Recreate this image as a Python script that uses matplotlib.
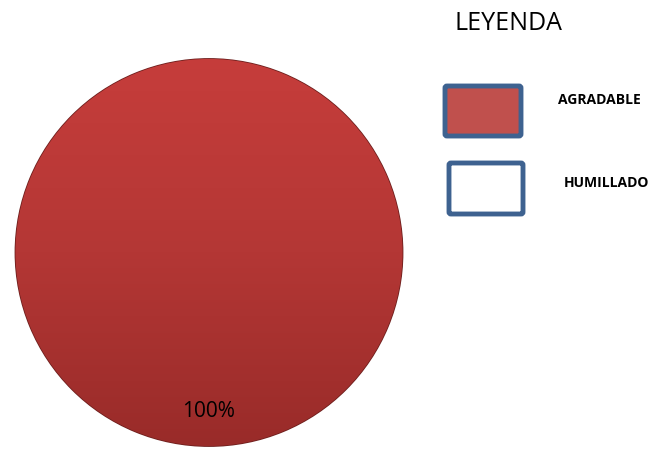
import numpy as np
import matplotlib
matplotlib.use('Agg')
import matplotlib.pyplot as plt
from matplotlib.patches import FancyBboxPatch
from matplotlib.colors import LinearSegmentedColormap

# data
labels = ['AGRADABLE', 'HUMILLADO']
values = [100, 0]
colors = ['#C0504D', '#FFFFFF']
legend_title = 'LEYENDA'

plt.rcParams['font.family'] = ['Open Sans', 'DejaVu Sans']

fig = plt.figure(figsize=(6.5, 4.5), dpi=100)
W, H = 650, 450

# pie axes
ax = fig.add_axes([12 / W, (H - 448) / H, 394 / W, 391 / H])
wedges, texts, autotexts = ax.pie(
    values, colors=colors, startangle=90, counterclock=False,
    autopct=lambda p: '{:.0f}%'.format(p) if p > 0 else '',
    pctdistance=0.82, radius=1.0,
    wedgeprops={'edgecolor': '#6e1f1d', 'linewidth': 1.2},
    textprops={'fontsize': 15, 'color': 'black'})

# gradient fill for the big slice (light top -> dark bottom)
grad = LinearSegmentedColormap.from_list('g', ['#C63D3B', '#B43735', '#992B29'])
img = ax.imshow(np.linspace(0, 1, 256).reshape(-1, 1), cmap=grad, aspect='auto',
                extent=[-1, 1, -1, 1], origin='upper', zorder=1.5,
                interpolation='bilinear')
img.set_clip_path(wedges[0])
for t in autotexts:
    t.set_zorder(3)
ax.set_xlim(-1.01, 1.01)
ax.set_ylim(-1.01, 1.01)
ax.set_aspect('equal')
ax.axis('off')

# legend drawn in pixel coords
lax = fig.add_axes([0, 0, 1, 1])
lax.set_xlim(0, W)
lax.set_ylim(H, 0)
lax.axis('off')

lax.text(508, 23, legend_title, fontsize=18, ha='center', va='center')

boxes = [(445, 86, 76, 50), (449, 163, 74, 51)]
text_pos = [(599, 100), (606, 183)]
for (x, y, w, h), (tx, ty), lab, col in zip(boxes, text_pos, labels, colors):
    lax.add_patch(FancyBboxPatch((x, y), w, h, boxstyle='round,pad=0,rounding_size=2',
                                 facecolor=col, edgecolor='#3E6290', linewidth=3.5))
    lax.text(tx, ty, lab, fontsize=10, fontweight='bold', ha='center', va='center')

fig.savefig('out.png', dpi=100, facecolor='white')
